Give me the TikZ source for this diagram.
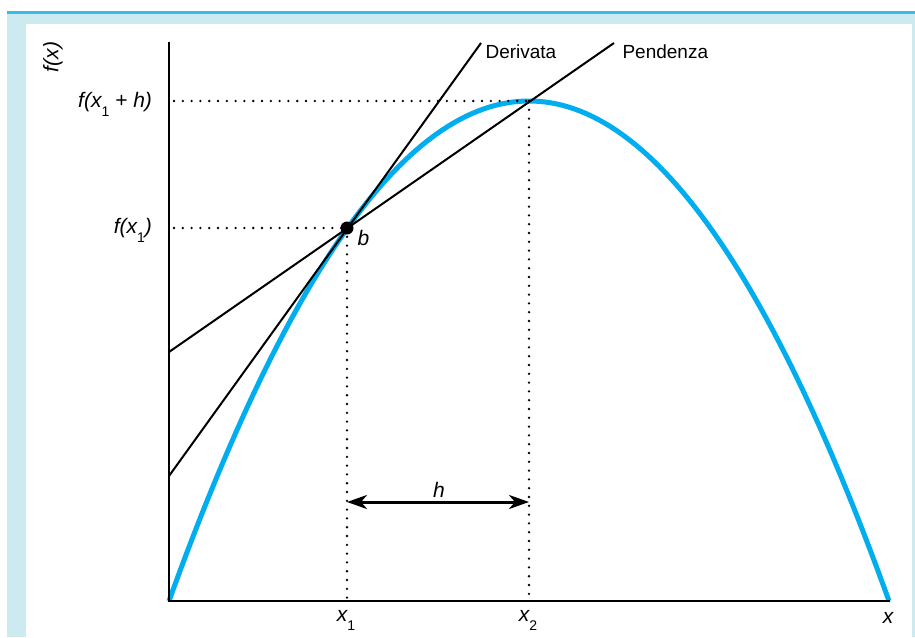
\documentclass[tikz,border=0pt]{standalone}
\usepackage{fontspec}
\setmainfont{Liberation Sans}
\usetikzlibrary{arrows.meta,positioning,calc}
\definecolor{curveblue}{HTML}{00AEEF}
\definecolor{panelblue}{HTML}{CDEAF1}
\definecolor{rimblue}{HTML}{33BDE8}
\newcommand{\low}[1]{\raisebox{-9pt}{\fontsize{14}{14}\selectfont\upshape #1}}

\begin{document}
\begin{tikzpicture}[x=1pt,y=-1pt,>={Stealth[length=20pt,width=14pt,inset=6pt]},
  word/.style={font=\fontsize{19}{22}\selectfont},
  lab/.style={font=\fontsize{21}{24}\selectfont\itshape},
  guide/.style={line width=2.6pt,line cap=round,dash pattern=on 0pt off 8.8pt},
  axis/.style={line width=2pt},
  tline/.style={line width=2pt}]
\useasboundingbox (0,0) rectangle (915,637);
% panel
\fill[panelblue] (7,14) rectangle (915,637);
\draw[rimblue,line width=2.5pt] (7,12.5)--(915,12.5);
\fill[white] (26,24) rectangle (911.5,637);

\coordinate (O) at (169,601);
\coordinate (ytop) at (169,42);
\coordinate (xend) at (890,601);
\coordinate (b) at (347,228);
\coordinate (m) at (529,101);
\coordinate (dlo) at (169,476);\coordinate (dhi) at (481,43);
\coordinate (plo) at (169,352);\coordinate (phi) at (614,43);
\coordinate (ha) at (347,502);\coordinate (hb) at (529,502);

% curve
\draw[curveblue,line width=5pt] plot[domain=169:889,samples=120] (\x,{101+500*((\x-529)/360)^2});

% guides
\draw[guide] ($(O|-m)+(5,0)$)--(m);
\draw[guide] ($(O|-b)+(5,0)$)--(b);
\draw[guide] (b)--(b|-O);
\draw[guide] (m)--(m|-O);

% axes
\draw[axis] (ytop)--(O)--(xend);

% lines
\draw[tline] (dlo)--(dhi);
\draw[tline] (plo)--(phi);
\node[word,anchor=base west] (der) at (482,58){Derivata};
\node[word,anchor=base west] (pen) at (619,58){Pendenza};
\fill (b) circle(6.5pt);
\node[lab,anchor=base west] (bl) at (354,245){b};

\draw[<->,line width=3pt] (ha)--(hb);
\node[lab,anchor=base] (hl) at (439,497){h};

% labels
\node[lab,rotate=90] (fx) at (53,57){f(x)};
\node[lab,anchor=base east] (fxh) at (155.5,107){f(x\low{1} + h)};
\node[lab,anchor=base east] (fx1) at (155.5,233){f(x\low{1})};
\node[lab,anchor=base] (x1) at (346,621){x\low{1}};
\node[lab,anchor=base] (x2) at (528,621){x\low{2}};
\node[lab,anchor=base] (xl) at (888,623){x};
\end{tikzpicture}
\end{document}
